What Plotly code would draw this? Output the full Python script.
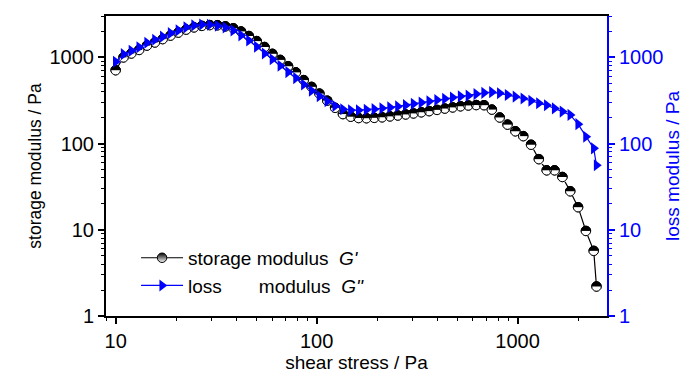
import plotly.graph_objects as go

# shear stress / Pa
stress = [10.0, 10.94, 11.97, 13.09, 14.32, 15.67, 17.14, 18.75, 20.51, 22.44,
          24.55, 26.85, 29.38, 32.14, 35.16, 38.46, 42.07, 46.03, 50.35, 55.08,
          60.26, 65.92, 72.11, 78.89, 86.30, 94.41, 103.3, 113.0, 123.6, 135.2,
          147.9, 161.8, 177.0, 193.6, 211.8, 231.7, 253.5, 277.3, 303.4, 331.9,
          363.1, 397.2, 434.5, 475.3, 520.0, 568.9, 622.3, 680.8, 744.7, 814.7,
          891.3, 975.0, 1067, 1167, 1276, 1396, 1528, 1671, 1828, 2000,
          2188, 2393, 2470]

# storage modulus G' / Pa
g_storage = [710, 1000, 1110, 1220, 1370, 1490, 1630, 1790, 1940, 2100,
             2230, 2320, 2370, 2360, 2290, 2180, 2000, 1770, 1545, 1320,
             1100, 935, 790, 670, 545, 455, 380, 315, 260, 220,
             205, 198, 197, 199, 202, 207, 212, 218, 224, 231,
             238, 246, 255, 263, 271, 277, 280, 279, 248, 201,
             166, 139, 122, 97, 66, 49, 49, 41, 28, 18.3,
             9.7, 5.7, 2.2]

# loss modulus G'' / Pa
g_loss = [890, 1090, 1190, 1310, 1480, 1600, 1740, 1910, 2060, 2230,
          2350, 2400, 2390, 2330, 2220, 2050, 1800, 1570, 1330, 1110,
          950, 800, 675, 575, 485, 410, 355, 310, 273, 250,
          244, 244, 247, 251, 257, 263, 270, 279, 289, 299,
          309, 320, 331, 342, 353, 360, 375, 388, 395, 384,
          366, 350, 334, 314, 294, 278, 256, 235, 215, 168,
          120, 88, 56]

x_tickvals = [10, 100, 1000]
x_ticktext = ["10", "100", "1000"]
y_tickvals = [1, 10, 100, 1000]
y_ticktext = ["1", "10", "100", "1000"]

NB = "\u00a0"
name_storage = "storage modulus" + NB * 2 + "<i>G'</i>"
name_loss = "loss" + NB * 7 + "modulus" + NB * 2 + "<i>G''</i>"

BLUE = "#0000FF"
FONT = "Liberation Sans, Arial, sans-serif"
D = 9.5

fig = go.Figure()

# G' line + legend marker (half shaded look via gradient)
fig.add_trace(go.Scatter(
    x=stress, y=g_storage, mode="lines+markers", name=name_storage,
    legendgroup="a",
    line=dict(color="black", width=1.2),
    marker=dict(symbol="circle", size=D, color="black",
                gradient=dict(type="vertical", color="white"),
                line=dict(color="black", width=1)),
))
# black filled disc
fig.add_trace(go.Scatter(
    x=stress, y=g_storage, mode="markers", showlegend=False, legendgroup="a",
    marker=dict(symbol="circle", size=D, color="black", line=dict(width=0)),
))
# white lower half
fig.add_trace(go.Scatter(
    x=stress, y=g_storage, mode="markers", showlegend=False, legendgroup="a",
    marker=dict(symbol="line-ew", size=D / 1.4, angle=0, standoff=D / 4,
                color="white", line=dict(color="white", width=D / 2)),
))
# outline
fig.add_trace(go.Scatter(
    x=stress, y=g_storage, mode="markers", showlegend=False, legendgroup="a",
    marker=dict(symbol="circle-open", size=D, color="black",
                line=dict(color="black", width=1)),
))
# G''
fig.add_trace(go.Scatter(
    x=stress, y=g_loss, mode="lines+markers", name=name_loss, yaxis="y2",
    legendgroup="b",
    line=dict(color=BLUE, width=1.2),
    marker=dict(symbol="triangle-right", size=10.5, color=BLUE, line=dict(width=0)),
))

yrange = [0, 3.48]
fig.update_layout(
    width=692, height=367,
    margin=dict(l=98, r=93, t=8, b=59, autoexpand=False),
    paper_bgcolor="white", plot_bgcolor="white",
    font=dict(family=FONT, size=20, color="black"),
    showlegend=True,
    legend=dict(x=0.06, y=0.257, xanchor="left", yanchor="top",
                bgcolor="rgba(0,0,0,0)", borderwidth=0,
                font=dict(size=19), itemwidth=42, tracegroupgap=0,
                traceorder="grouped"),
    xaxis=dict(type="log", range=[0.952, 3.445], automargin=False,
               tickvals=x_tickvals, ticktext=x_ticktext,
               ticks="outside", ticklen=6, tickwidth=1.5, tickcolor="black",
               minor=dict(ticks="outside", ticklen=3, tickwidth=1.2,
                          tickcolor="black", dtick="D1", showgrid=False),
               showline=True, linecolor="black", linewidth=2, mirror=True,
               showgrid=False, zeroline=False,
               tickfont=dict(size=20, color="black"),
               title=dict(text="shear stress / Pa", font=dict(size=19), standoff=2)),
    yaxis=dict(type="log", range=yrange, automargin=False,
               tickvals=y_tickvals, ticktext=y_ticktext,
               ticks="outside", ticklen=6, tickwidth=1.5, tickcolor="black",
               minor=dict(ticks="outside", ticklen=3, tickwidth=1.2,
                          tickcolor="black", dtick="D1", showgrid=False),
               showline=True, linecolor="black", linewidth=2,
               showgrid=False, zeroline=False,
               tickfont=dict(size=20, color="black"),
               title=dict(text="storage modulus / Pa", font=dict(size=17.5), standoff=3)),
    yaxis2=dict(type="log", range=yrange, overlaying="y", side="right",
                automargin=False,
                tickvals=y_tickvals, ticktext=y_ticktext,
                ticks="outside", ticklen=6, tickwidth=1.5, tickcolor=BLUE,
                minor=dict(ticks="outside", ticklen=3, tickwidth=1.2,
                           tickcolor=BLUE, dtick="D1", showgrid=False),
                showline=True, linecolor=BLUE, linewidth=2,
                showgrid=False, zeroline=False,
                tickfont=dict(size=20, color=BLUE),
                title=dict(text="loss modulus / Pa", font=dict(size=19, color=BLUE), standoff=3)),
)

fig.write_html("out.html")
